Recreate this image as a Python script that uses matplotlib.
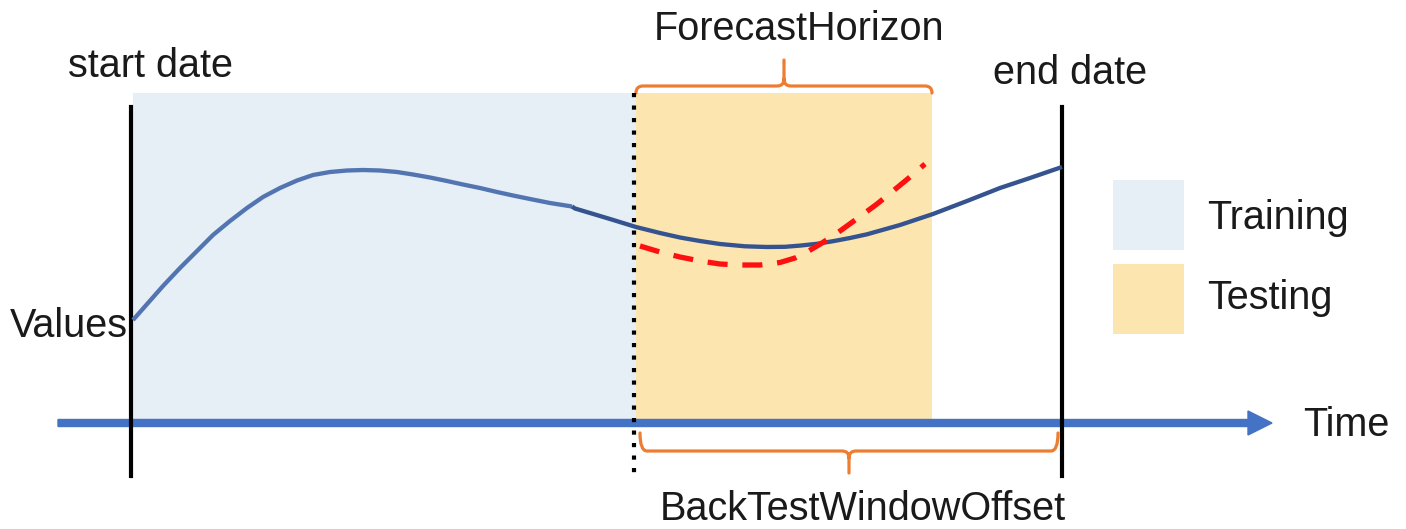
import matplotlib.pyplot as plt
from matplotlib.patches import Rectangle, PathPatch
from matplotlib.path import Path

plt.rcParams["font.family"] = ["Liberation Sans", "DejaVu Sans"]

# time positions of the key dates (in picture units)
START_DATE = 133
SPLIT_DATE = 636
HORIZON_END = 932
END_DATE = 1062

actual_x = [133, 148, 163, 180, 197, 213, 230, 247, 263, 280, 297, 313, 330,
            347, 363, 380, 397, 413, 430, 447, 463, 480, 497, 513, 530, 550,
            572, 575, 590, 610, 636, 660, 680, 700, 720, 745, 767, 785, 800,
            817, 833, 850, 867, 900, 933, 967, 1000, 1030, 1062]
actual_y = [320, 303, 286, 268, 251, 235, 221, 208, 197, 188, 180.5, 175, 172,
            170.5, 170, 170.5, 172, 174.5, 177.5, 181, 184.5, 188, 192, 195.5,
            199, 203, 206.5, 208.5, 213, 219, 227, 233, 237.5, 241, 244, 246.3,
            247, 246.8, 245.6, 243.8, 241.2, 238, 234.3, 225, 214, 201, 188,
            178, 167]

# forecast series inside the horizon
forecast_x = [640, 660, 680, 700, 720, 740, 760, 780, 795, 807, 822, 840, 858,
              877, 893, 910, 925]
forecast_y = [246, 252, 257, 261, 264, 265, 265, 262.5, 258, 252, 243, 231,
              218, 204, 191, 177, 164]

legend_labels = ["Training", "Testing"]
TRAIN_COLOR = "#E6EEF6"
TEST_COLOR = "#FDE5AF"
ORANGE = "#ED7D31"


def brace(ax, x0, x1, y_end, y_mid, y_tip, r=7):
    xc = (x0 + x1) / 2
    s = 1 if y_tip < y_mid else -1
    verts = [(x0, y_end), (x0, y_mid), (x0 + r, y_mid),
             (xc - r, y_mid), (xc, y_mid), (xc, y_mid - s * r), (xc, y_tip),
             (xc, y_mid - s * r), (xc, y_mid), (xc + r, y_mid),
             (x1 - r, y_mid), (x1, y_mid), (x1, y_end)]
    codes = [Path.MOVETO, Path.CURVE3, Path.CURVE3,
             Path.LINETO, Path.CURVE3, Path.CURVE3, Path.LINETO,
             Path.MOVETO, Path.CURVE3, Path.CURVE3,
             Path.LINETO, Path.CURVE3, Path.CURVE3]
    ax.add_patch(PathPatch(Path(verts, codes), fill=False, edgecolor=ORANGE,
                           linewidth=2.3, capstyle="round", joinstyle="round"))


fig = plt.figure(figsize=(14.06, 5.29), dpi=100)
ax = fig.add_axes([0, 0, 1, 1])
ax.set_xlim(0, 1406)
ax.set_ylim(529, 0)
ax.axis("off")

# shaded periods
ax.add_patch(Rectangle((START_DATE, 93), SPLIT_DATE - START_DATE, 327,
                       facecolor=TRAIN_COLOR, edgecolor="none", zorder=1))
ax.add_patch(Rectangle((SPLIT_DATE, 93), HORIZON_END - SPLIT_DATE, 327,
                       facecolor=TEST_COLOR, edgecolor="none", zorder=1))

# time axis arrow
ax.arrow(58, 423, 1272 - 58, 0, width=7, head_width=24, head_length=24,
         length_includes_head=True, color="#4472C4", zorder=3)

# date markers
ax.plot([131, 131], [107, 476], color="black", lw=3, zorder=4)
ax.plot([END_DATE, END_DATE], [107, 476], color="black", lw=3, zorder=4)
ax.plot([634, 634], [93, 478], color="black", lw=3,
        linestyle=(0, (1, 2)), dash_capstyle="butt", zorder=4)

# actual values, split where the colour shifts
k = actual_x.index(572)
ax.plot(actual_x[:k + 1], actual_y[:k + 1], color="#5275B2", lw=3.1,
        solid_capstyle="butt", solid_joinstyle="round", zorder=5)
ax.plot(actual_x[k:], actual_y[k:], color="#34538F", lw=3.1,
        solid_capstyle="butt", solid_joinstyle="round", zorder=5)

# forecast
ax.plot(forecast_x, forecast_y, color="#FF1010", lw=3.8,
        linestyle=(0, (3.8, 2.8)), dash_capstyle="butt", zorder=6)

# braces
brace(ax, SPLIT_DATE, HORIZON_END, 93, 86, 60)
brace(ax, 640, 1058, 433, 451, 473)

# legend patches
ax.add_patch(Rectangle((1113, 180), 71, 70, facecolor=TRAIN_COLOR, edgecolor="none"))
ax.add_patch(Rectangle((1113, 264), 71, 70, facecolor=TEST_COLOR, edgecolor="none"))

fs = 28.5
tc = "#1a1a1a"
ax.text(799, 40, "ForecastHorizon", fontsize=fs, color=tc, ha="center", va="baseline")
ax.text(68, 77, "start date", fontsize=fs, color=tc, ha="left", va="baseline")
ax.text(993, 84, "end date", fontsize=fs, color=tc, ha="left", va="baseline")
ax.text(128, 337, "Values", fontsize=fs, color=tc, ha="right", va="baseline")
ax.text(1207, 229, legend_labels[0], fontsize=fs, color=tc, ha="left", va="baseline")
ax.text(1207, 309, legend_labels[1], fontsize=fs, color=tc, ha="left", va="baseline")
ax.text(1303, 436, "Time", fontsize=fs, color=tc, ha="left", va="baseline")
ax.text(863, 520, "BackTestWindowOffset", fontsize=fs, color=tc, ha="center", va="baseline")

fig.savefig("out.png", dpi=100)
